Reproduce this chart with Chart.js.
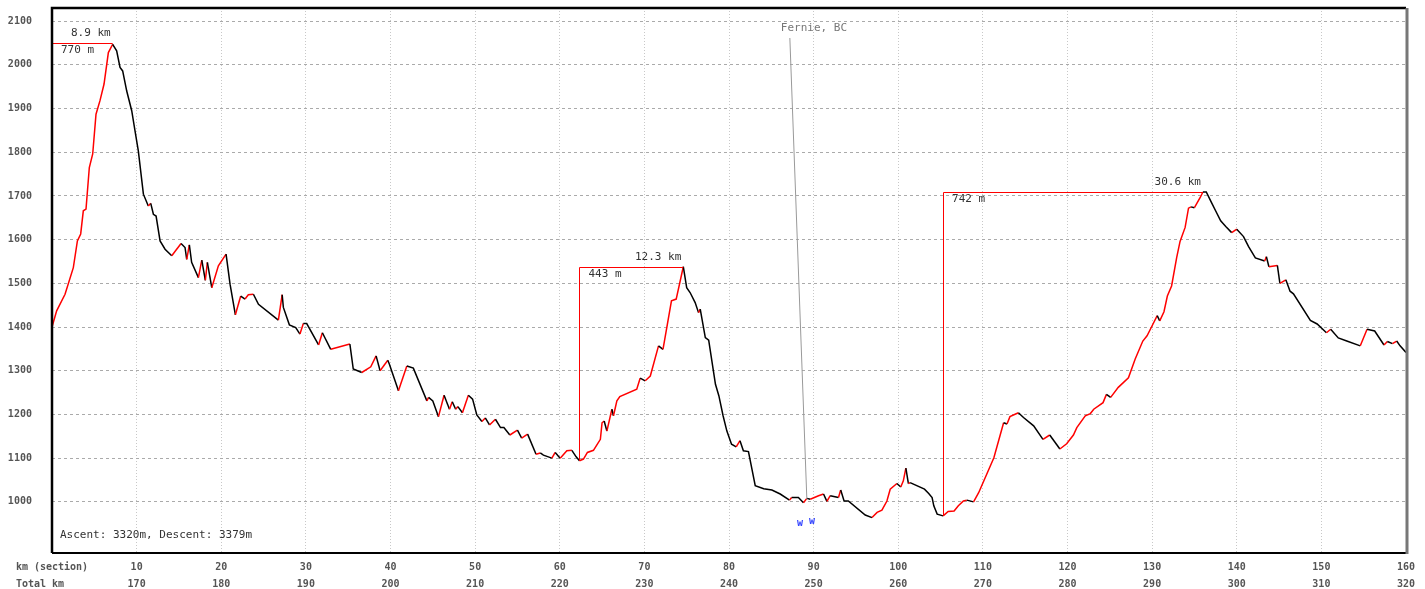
<!DOCTYPE html>
<html>
<head>
<meta charset="utf-8">
<script src="https://cdn.jsdelivr.net/npm/chart.js@4.4.0/dist/chart.umd.min.js"></script>
<style>
  html, body { margin: 0; padding: 0; background: #fff; }
</style>
</head>
<body>
<canvas id="profile" width="1425" height="589"></canvas>
<script>
// distance along the section (km) and elevation (m)
const kmValues = [
    0, 0.55, 1.54, 2.52, 3.0, 3.39, 3.7, 4.02, 4.41, 4.81, 5.2, 5.67, 6.15, 6.66, 7.17,
    7.64, 8.04, 8.35, 8.83, 9.42, 9.81, 10.2, 10.8, 11.38, 11.67, 11.98, 12.3, 12.77, 13.36, 14.15,
    15.25, 15.72, 15.92, 16.23, 16.5, 17.3, 17.7, 18.12, 18.36, 18.88, 19.66, 20.57, 21.04, 21.67,
    22.3, 22.81, 23.2, 23.8, 24.4, 26.75, 27.2, 27.34, 28.05, 28.8, 29.3, 29.7, 30.1, 31.5, 31.95,
    32.94, 35.2, 35.6, 36.6, 37.67, 38.3, 38.77, 39.68, 39.87, 40.94, 41.93, 42.7, 44.3, 44.5, 45.0,
    45.67, 46.33, 46.97, 47.3, 47.7, 47.96, 48.5, 49.2, 49.7, 50.2, 50.8, 51.2, 51.7, 52.4, 53.0,
    53.4, 54.1, 55.0, 55.5, 56.2, 57.2, 57.7, 58.07, 59.07, 59.46, 60.05, 60.84, 61.43, 61.94, 62.33,
    62.8, 63.27, 63.98, 64.8, 65.0, 65.25, 65.57, 66.16, 66.35, 66.75, 67.1, 69.1, 69.5, 70.1, 70.7,
    71.67, 72.2, 73.2, 73.76, 74.6, 75.0, 75.4, 76.0, 76.4, 76.6, 77.2, 77.6, 78.4, 78.8, 79.3,
    79.75, 80.3, 80.85, 81.3, 81.7, 82.3, 83.1, 84.1, 85.07, 86.05, 87.15, 87.4, 88.2, 88.8, 89.2,
    89.6, 90.58, 91.17, 91.57, 91.96, 92.94, 93.2, 93.6, 94.1, 96.1, 96.9, 97.5, 98.07, 98.66, 99.05,
    99.84, 100.3, 100.6, 100.9, 101.2, 101.4, 103.1, 103.6, 104.0, 104.2, 104.6, 105.3, 105.9, 106.6,
    107.1, 107.7, 108.1, 108.9, 109.5, 111.3, 112.45, 112.85, 113.2, 114.2, 114.8, 116.0, 117.1, 117.9,
    119.1, 119.9, 120.7, 121.1, 122.1, 122.7, 123.1, 124.2, 124.6, 125.1, 126.0, 127.2, 128.0, 128.9,
    129.4, 130.0, 130.6, 130.9, 131.4, 131.8, 132.3, 132.9, 133.3, 133.9, 134.3, 134.6, 135.0, 135.7,
    136.0, 136.4, 136.96, 137.5, 138.1, 138.7, 139.4, 140.0, 140.8, 141.4, 142.2, 143.3, 143.5, 143.8,
    144.8, 145.1, 145.8, 146.3, 146.7, 148.7, 149.5, 150.6, 151.1, 152.0, 153.0, 154.6, 155.4, 156.3,
    157.4, 157.8, 158.4, 158.9, 159.3, 160
];
const eleValues = [
    1400, 1437, 1475, 1536, 1597, 1613, 1666, 1670, 1765, 1796, 1887, 1918, 1956, 2028, 2047,
    2032, 1994, 1986, 1940, 1895, 1849, 1803, 1704, 1677, 1683, 1658, 1654, 1597, 1578, 1563,
    1591, 1582, 1555, 1588, 1548, 1513, 1553, 1507, 1548, 1490, 1540, 1567, 1498, 1428,
    1471, 1464, 1474, 1475, 1452, 1416, 1474, 1445, 1405, 1399, 1384, 1408, 1408, 1359, 1387,
    1349, 1361, 1304, 1296, 1309, 1334, 1300, 1324, 1315, 1254, 1311, 1306, 1231, 1239, 1231,
    1195, 1244, 1212, 1229, 1212, 1218, 1204, 1244, 1235, 1199, 1184, 1192, 1176, 1189, 1170,
    1170, 1153, 1164, 1146, 1155, 1109, 1112, 1107, 1100, 1113, 1100, 1117, 1118, 1103, 1094,
    1098, 1113, 1118, 1143, 1181, 1185, 1162, 1212, 1197, 1231, 1241, 1258, 1283, 1277, 1288,
    1357, 1349, 1460, 1464, 1538, 1490, 1479, 1456, 1433, 1441, 1376, 1370, 1269, 1243, 1197,
    1162, 1132, 1126, 1140, 1117, 1115, 1037, 1030, 1027, 1018, 1004, 1010, 1010, 998, 1008,
    1006, 1014, 1018, 1001, 1014, 1010, 1027, 1002, 1002, 970, 964, 976, 981, 1002, 1029,
    1042, 1034, 1048, 1077, 1042, 1044, 1029, 1019, 1010, 991, 972, 968, 978, 979,
    991, 1002, 1004, 1000, 1021, 1101, 1181, 1178, 1195, 1204, 1193, 1174, 1143, 1153,
    1121, 1133, 1153, 1170, 1197, 1202, 1212, 1227, 1246, 1239, 1262, 1284, 1327, 1368,
    1380, 1403, 1426, 1414, 1435, 1471, 1494, 1559, 1596, 1628, 1672, 1675, 1673, 1697,
    1709, 1709, 1687, 1666, 1643, 1630, 1616, 1624, 1607, 1584, 1558, 1551, 1561, 1538,
    1541, 1500, 1508, 1482, 1476, 1415, 1407, 1387, 1395, 1375, 1368, 1357, 1395, 1391,
    1359, 1367, 1362, 1368, 1357, 1342
];

const yTicks = [1000, 1100, 1200, 1300, 1400, 1500, 1600, 1700, 1800, 1900, 2000, 2100];
const totalKmOffset = 160;

// climbs marked with a red bracket
const climbStartKm = [0, 62.33, 105.3];
const climbStartEle = [1400, 1094, 968];
const climbPeakKm = [7.17, 74.6, 136.0];
const climbPeakEle = [2049, 1538, 1708];
const climbLength = ['8.9 km', '12.3 km', '30.6 km'];
const climbGain = ['770 m', '443 m', '742 m'];

const placeNames = ['Fernie, BC'];
const placeKm = [89.2];
const placeEle = [1006];

const waypointLabels = ['w', 'w'];
const waypointKm = [88.4, 89.8];
const waypointEle = [950, 955];

const summaryText = 'Ascent: 3320m, Descent: 3379m';

const MONO = '"DejaVu Sans Mono", "Liberation Mono", monospace';

const extrasPlugin = {
    id: 'extras',
    afterDatasetsDraw( chart )
    {
        const ctx = chart.ctx;
        const xs = chart.scales.x;
        const ys = chart.scales.y;
        const area = chart.chartArea;
        ctx.save();

        // climb brackets
        ctx.font = '11px ' + MONO;
        ctx.textBaseline = 'middle';
        for ( let i = 0; i < climbStartKm.length; i++ )
        {
            let x0 = xs.getPixelForValue( climbStartKm[ i ] );
            let y0 = ys.getPixelForValue( climbStartEle[ i ] );
            let x1 = xs.getPixelForValue( climbPeakKm[ i ] );
            let y1 = ys.getPixelForValue( climbPeakEle[ i ] );
            ctx.strokeStyle = '#ff0000';
            ctx.lineWidth = 1;
            ctx.beginPath();
            ctx.moveTo( Math.round( x0 ) + 0.5, y0 );
            ctx.lineTo( Math.round( x0 ) + 0.5, Math.round( y1 ) + 0.5 );
            ctx.lineTo( x1, Math.round( y1 ) + 0.5 );
            ctx.stroke();
            ctx.fillStyle = '#333';
            ctx.textAlign = 'right';
            ctx.fillText( climbLength[ i ], x1 - 2, y1 - 10 );
            ctx.textAlign = 'left';
            ctx.fillText( climbGain[ i ], x0 + 9, y1 + 7 );
        }

        // place name with leader line
        for ( let i = 0; i < placeNames.length; i++ )
        {
            let px = xs.getPixelForValue( placeKm[ i ] );
            let py = ys.getPixelForValue( placeEle[ i ] );
            let tx = px - 26;
            let ty = area.top + 20;
            ctx.fillStyle = '#777';
            ctx.textAlign = 'left';
            ctx.fillText( placeNames[ i ], tx, ty );
            ctx.strokeStyle = '#999';
            ctx.lineWidth = 1;
            ctx.beginPath();
            ctx.moveTo( tx + 9, ty + 10 );
            ctx.lineTo( px, py );
            ctx.stroke();
        }

        // waypoints
        ctx.font = 'bold 10px ' + MONO;
        ctx.fillStyle = '#3344ff';
        ctx.textAlign = 'center';
        for ( let i = 0; i < waypointLabels.length; i++ )
        {
            ctx.fillText( waypointLabels[ i ], xs.getPixelForValue( waypointKm[ i ] ), ys.getPixelForValue( waypointEle[ i ] ) );
        }

        ctx.font = '11px ' + MONO;
        ctx.fillStyle = '#333';
        ctx.textAlign = 'left';
        ctx.fillText( summaryText, area.left + 8, area.bottom - 18 );
        ctx.restore();
    },
    afterDraw( chart )
    {
        const ctx = chart.ctx;
        const a = chart.chartArea;
        ctx.save();
        ctx.strokeStyle = '#000';
        ctx.lineWidth = 2.5;
        ctx.beginPath();
        ctx.moveTo( a.left, a.bottom );
        ctx.lineTo( a.left, a.top );
        ctx.lineTo( a.right, a.top );
        ctx.stroke();
        ctx.lineWidth = 2;
        ctx.beginPath();
        ctx.moveTo( a.left, a.bottom );
        ctx.lineTo( a.right, a.bottom );
        ctx.stroke();
        ctx.strokeStyle = '#777';
        ctx.lineWidth = 3;
        ctx.beginPath();
        ctx.moveTo( a.right + 1, a.top );
        ctx.lineTo( a.right + 1, a.bottom + 1 );
        ctx.stroke();
        ctx.restore();
    }
};

const points = kmValues.map( ( k, i ) => ( { x: k, y: eleValues[ i ] } ) );

new Chart( document.getElementById( 'profile' ).getContext( '2d' ), {
    type: 'line',
    data: {
        datasets: [ {
            data: points,
            borderColor: '#000',
            borderWidth: 1.5,
            pointRadius: 0,
            tension: 0,
            segment: {
                borderColor: c => c.p1.parsed.y > c.p0.parsed.y ? '#ff0000' : '#000000'
            }
        } ]
    },
    plugins: [ extrasPlugin ],
    options: {
        responsive: false,
        animation: false,
        layout: { padding: { top: 8, right: 19, left: 0, bottom: 0 } },
        plugins: {
            legend: { display: false },
            tooltip: { enabled: false },
            title: { display: false }
        },
        scales: {
            x: {
                type: 'linear',
                min: 0,
                max: 160,
                afterFit: s => { s.height = 36; },
                ticks: {
                    stepSize: 10,
                    autoSkip: false,
                    maxRotation: 0,
                    padding: 6,
                    color: '#555',
                    font: { family: MONO, size: 10, weight: 'bold', lineHeight: 1.7 },
                    callback: v => v === 0 ? [ 'km (section)', 'Total km    ' ] : [ String( v ), String( v + totalKmOffset ) ]
                },
                grid: { color: '#c8c8c8', lineWidth: 1, drawTicks: false },
                border: { display: false, dash: [ 1, 2 ] }
            },
            y: {
                min: 883,
                max: 2130,
                afterFit: s => { s.width = 52; },
                afterBuildTicks: s => { s.ticks = yTicks.map( v => ( { value: v } ) ); },
                ticks: {
                    padding: 2,
                    color: '#555',
                    font: { family: MONO, size: 10, weight: 'bold' },
                    // trailing spaces keep the labels clear of the frame
                    callback: v => String( v ) + '   '
                },
                grid: { color: '#aaaaaa', lineWidth: 1, drawTicks: false },
                border: { display: false, dash: [ 3, 3 ] }
            }
        }
    }
} );
</script>
</body>
</html>
